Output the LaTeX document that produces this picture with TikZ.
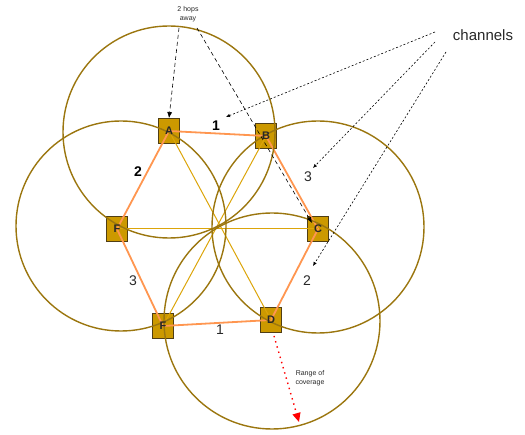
\documentclass[tikz,border=0pt]{standalone}
\usepackage{fontspec}
\setmainfont{Liberation Sans}
\usetikzlibrary{arrows.meta}
\definecolor{ringcol}{RGB}{155,118,15}
\definecolor{boxfill}{RGB}{204,153,0}
\definecolor{boxline}{RGB}{80,62,20}
\definecolor{hexcol}{RGB}{255,150,80}
\definecolor{diagcol}{RGB}{220,165,10}
\definecolor{txtcol}{RGB}{40,40,40}
\tikzset{
  station/.style={draw=boxline, line width=0.9pt, fill=boxfill, minimum width=21pt, minimum height=25pt, inner sep=0pt},
  stationtxt/.style={inner sep=0pt, font=\bfseries\fontsize{11}{12}\selectfont, text=txtcol},
  ring/.style={draw=ringcol, line width=1.4pt},
  hexedge/.style={draw=hexcol, line width=1.8pt},
  diagedge/.style={draw=diagcol, line width=1pt},
  chlabel/.style={font=\fontsize{14}{15}\selectfont, text=txtcol},
  chlabelb/.style={font=\bfseries\fontsize{14}{15}\selectfont, text=black},
  small/.style={font=\fontsize{7}{9}\selectfont, text=txtcol, align=center, inner sep=0pt},
  hoparrow/.style={draw=black, line width=0.6pt, dash pattern=on 4pt off 3pt, -{Latex[length=6pt,width=5pt]}},
  chanarrow/.style={draw=black, line width=0.6pt, dash pattern=on 2pt off 2pt, -{Latex[length=4pt,width=3.5pt]}},
  rangearrow/.style={draw=red, line width=1.4pt, dash pattern=on 1.4pt off 4pt, -{Triangle[length=9pt,width=8pt,fill=red]}}
}
\begin{document}
\begin{tikzpicture}[x=1pt,y=-1pt]
\useasboundingbox (0,0) rectangle (525,435);
% stations
\node[station] (A) at (169,131) {};
\node[station] (B) at (266,136) {};
\node[station] (C) at (318,229) {};
\node[station] (D) at (271,320) {};
\node[station] (E) at (163,326) {};
\node[station] (F) at (117,229) {};
% hexagon edges
\draw[hexedge] (A.center) -- (B.center) -- (C.center) -- (D.center) -- (E.center) -- (F.center) -- (A.center);
% diagonals
\draw[diagedge] (A.center) -- (D.center);
\draw[diagedge] (B.center) -- (E.center);
\draw[diagedge] (F.center) -- (C.center);
% coverage circles
\draw[ring] (169,132) circle (106);
\draw[ring] (121,226) circle (105);
\draw[ring] (318,227) circle (106);
\draw[ring] (272,321) circle (108);
% station letters
\node[stationtxt] (Atxt) at (A.center) {A};
\node[stationtxt] (Btxt) at (B.center) {B};
\node[stationtxt] (Ctxt) at (C.center) {C};
\node[stationtxt] (Dtxt) at (D.center) {D};
\node[stationtxt] (Etxt) at (E.center) {F};
\node[stationtxt] (Ftxt) at (F.center) {F};
% channel numbers
\node[chlabelb] (l1) at (216,126) {1};
\node[chlabelb] (l2) at (138,172) {2};
\node[chlabel] (l3) at (308,177) {3};
\node[chlabel] (l4) at (133,281) {3};
\node[chlabel] (l5) at (307,281) {2};
\node[chlabel] (l6) at (220,330) {1};
% 2 hops away
\node[small] (hops) at (188,14) {2 hops\\away};
\coordinate (h1) at (179,28);
\coordinate (h2) at (197,28);
\coordinate (hC) at (312,223);
\draw[hoparrow] (h1) -- (A.north);
\draw[hoparrow] (h2) -- (hC);
% channels
\node[font=\fontsize{15}{16}\selectfont, text=txtcol] (chan) at (483,35) {channels};
\coordinate (c1) at (435,32);
\coordinate (c2) at (435,42);
\coordinate (c3) at (446,52);
\coordinate (t1) at (226,117);
\coordinate (t2) at (313,168);
\coordinate (t3) at (313,266);
\draw[chanarrow] (c1) -- (t1);
\draw[chanarrow] (c2) -- (t2);
\draw[chanarrow] (c3) -- (t3);
% range of coverage
\coordinate (rEnd) at (299,422);
\draw[rangearrow] (D.south) ++(3,3) -- (rEnd);
\node[small] (range) at (310,378) {Range of\\coverage};
\end{tikzpicture}
\end{document}
